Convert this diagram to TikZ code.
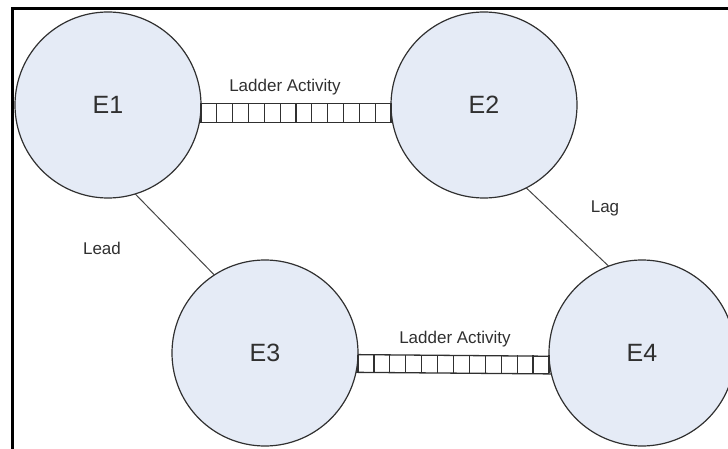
\documentclass[tikz,border=0pt]{standalone}
\usepackage{fontspec}
\setmainfont{Liberation Sans}
\usetikzlibrary{calc}
\definecolor{eventfill}{RGB}{229,235,246}
\definecolor{inkgray}{RGB}{48,48,48}
\definecolor{linegray}{RGB}{70,70,70}
\begin{document}
\begin{tikzpicture}[x=1pt,y=-1pt,
  event/.style={circle,draw=inkgray,line width=1.2pt,fill=eventfill,
    minimum size=186pt,inner sep=0pt,outer sep=0pt,text=inkgray,
    font=\fontsize{25}{29}\selectfont},
  tag/.style={text=inkgray,font=\fontsize{17}{20}\selectfont,anchor=base,inner sep=0pt},
  link/.style={draw=linegray,line width=1pt},
  rail/.style={draw=inkgray,line width=1.3pt}]
\useasboundingbox (0,0) rectangle (728,449);
\clip (0,0) rectangle (728,449);

% page frame (only the top and left edges fall inside)
\draw[line width=2.8pt] (12.5,8.7) rectangle (780,500);

% events
\node[event] (E1) at (108,105) {E1};
\node[event] (E2) at (484,105) {E2};
\node[event] (E3) at (265,353) {E3};
\node[event] (E4) at (642,353) {E4};

% lead / lag relations
\draw[link] (E1.-73.5) -- (E3.123);
\draw[link] (E2.-63) -- (E4.111);

% ladder between E1 and E2
\draw[rail] (E1.1) -- (E2.179);
\draw[rail] (E1.-11) -- (E2.-169);
\foreach \k in {0,...,12}
  \draw[rail] ($(E1.east)!\k/12!(E2.west)+(0,-1.7)$) -- ++(0,19.4);

% ladder between E3 and E4
\draw[rail] (E3.-1.2) -- (E4.-178.8);
\draw[rail] (E3.-12.4) -- (E4.-167.6);
\foreach \k in {0,...,12}
  \draw[rail] ($(E3.east)!\k/12!(E4.west)+(0,2)$) -- ++(0,18);

% labels
\node[tag] (t1) at (285,92) {Ladder Activity};
\node[tag] (t2) at (455,343) {Ladder Activity};
\node[tag] (t3) at (102,254) {Lead};
\node[tag] (t4) at (605,213) {Lag};
\end{tikzpicture}
\end{document}
